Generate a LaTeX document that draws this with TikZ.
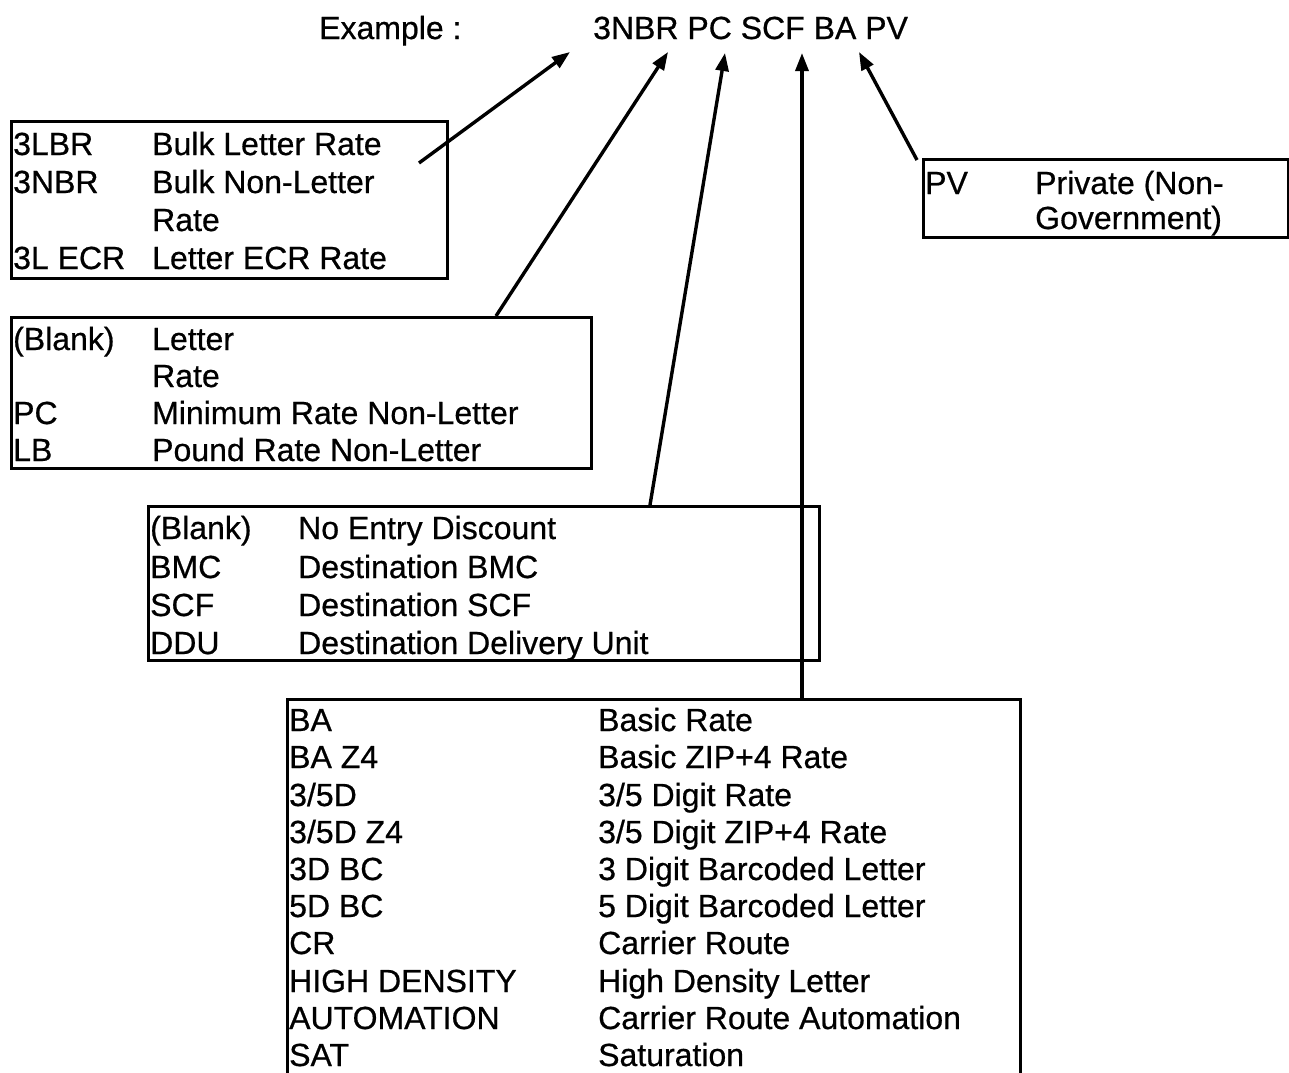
\documentclass[tikz,border=0pt]{standalone}
\usepackage{fontspec}
\setmainfont{Liberation Sans}[FakeBold=0.6]
\usetikzlibrary{arrows.meta}
\begin{document}
\begin{tikzpicture}[x=1pt,y=-1pt,
  box/.style={draw, line width=2.5pt, rectangle, anchor=north west, inner sep=0pt},
  txt/.style={anchor=base west, inner sep=0pt, font=\fontsize{32}{38}\selectfont},
  arr/.style={line width=3.4pt, -{Triangle[length=18pt,width=13pt]}}]
\useasboundingbox (0,0) rectangle (1289,1072);
\clip (0,0) rectangle (1289,1072);
\fill[white] (0,0) rectangle (1289,1072);

% title
\node[txt] (exl) at (319,39) {Example :};
\node[txt] (ex) at (593,39) {3NBR PC SCF BA PV};

% boxes
\node[box, minimum width=436, minimum height=157] (b1) at (10,120) {};
\node[box, minimum width=580, minimum height=151] (b2) at (10,316) {};
\node[box, minimum width=671, minimum height=154] (b3) at (147,505) {};
\node[box, minimum width=733, minimum height=420] (b4) at (286,698) {};
\node[box, minimum width=365, minimum height=78] (b5) at (922,158) {};

% box 1
\node[txt] (a11) at (13,155) {3LBR};
\node[txt] (a12) at (152,155) {Bulk Letter Rate};
\node[txt] (a21) at (13,193) {3NBR};
\node[txt] (a22) at (152,193) {Bulk Non-Letter};
\node[txt] (a32) at (152,231) {Rate};
\node[txt] (a41) at (13,269) {3L ECR};
\node[txt] (a42) at (152,269) {Letter ECR Rate};

% box 2
\node[txt] (c11) at (13,350) {(Blank)};
\node[txt] (c12) at (152,350) {Letter};
\node[txt] (c22) at (152,387) {Rate};
\node[txt] (c31) at (13,424) {PC};
\node[txt] (c32) at (152,424) {Minimum Rate Non-Letter};
\node[txt] (c41) at (13,461) {LB};
\node[txt] (c42) at (152,461) {Pound Rate Non-Letter};

% box 3
\node[txt] (d11) at (150,539) {(Blank)};
\node[txt] (d12) at (298,539) {No Entry Discount};
\node[txt] (d21) at (150,578) {BMC};
\node[txt] (d22) at (298,578) {Destination BMC};
\node[txt] (d31) at (150,616) {SCF};
\node[txt] (d32) at (298,616) {Destination SCF};
\node[txt] (d41) at (150,654) {DDU};
\node[txt] (d42) at (298,654) {Destination Delivery Unit};

% box 4
\node[txt] (e01) at (289,731) {BA};
\node[txt] (e02) at (598,731) {Basic Rate};
\node[txt] (e11) at (289,768) {BA Z4};
\node[txt] (e12) at (598,768) {Basic ZIP+4 Rate};
\node[txt] (e21) at (289,806) {3/5D};
\node[txt] (e22) at (598,806) {3/5 Digit Rate};
\node[txt] (e31) at (289,843) {3/5D Z4};
\node[txt] (e32) at (598,843) {3/5 Digit ZIP+4 Rate};
\node[txt] (e41) at (289,880) {3D BC};
\node[txt] (e42) at (598,880) {3 Digit Barcoded Letter};
\node[txt] (e51) at (289,917) {5D BC};
\node[txt] (e52) at (598,917) {5 Digit Barcoded Letter};
\node[txt] (e61) at (289,954) {CR};
\node[txt] (e62) at (598,954) {Carrier Route};
\node[txt] (e71) at (289,992) {HIGH DENSITY};
\node[txt] (e72) at (598,992) {High Density Letter};
\node[txt] (e81) at (289,1029) {AUTOMATION};
\node[txt] (e82) at (598,1029) {Carrier Route Automation};
\node[txt] (e91) at (289,1066) {SAT};
\node[txt] (e92) at (598,1066) {Saturation};

% box PV
\node[txt] (f11) at (925,194) {PV};
\node[txt] (f12) at (1035,194) {Private (Non-};
\node[txt] (f22) at (1035,229) {Government)};

% arrow end points
\coordinate (s1) at (419,163); \coordinate (t1) at (570,52);
\coordinate (s2) at (496,316); \coordinate (t2) at (668,52);
\coordinate (s3) at (650,505); \coordinate (t3) at (725,53);
\coordinate (s4) at (802,698); \coordinate (t4) at (802,53);
\coordinate (s5) at (917,160); \coordinate (t5) at (859,52);

\draw[arr] (s1) -- (t1);
\draw[arr] (s2) -- (t2);
\draw[arr] (s3) -- (t3);
\draw[arr] (s4) -- (t4);
\draw[arr] (s5) -- (t5);
\end{tikzpicture}
\end{document}
